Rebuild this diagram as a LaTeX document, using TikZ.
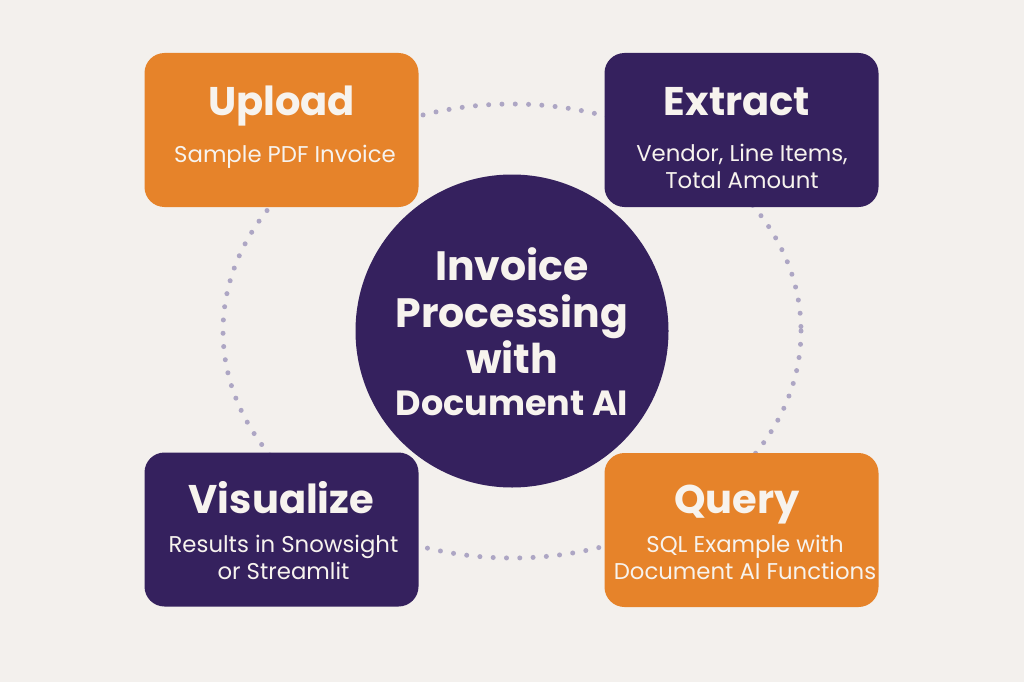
\documentclass[tikz,border=0pt]{standalone}
\usepackage{fontspec}
\setmainfont{Poppins}
\definecolor{bgc}{HTML}{F3F0ED}
\definecolor{orangec}{HTML}{E6832A}
\definecolor{purplec}{HTML}{35215E}
\definecolor{dotc}{HTML}{ADA6C4}
\definecolor{txtc}{HTML}{F7F3EE}
\tikzset{
  stepbox/.style={rounded corners=20pt, minimum width=274pt, minimum height=154pt, inner sep=0pt, draw=none},
  orangebox/.style={stepbox, fill=orangec},
  purplebox/.style={stepbox, fill=purplec},
  titletxt/.style={anchor=base, text=txtc, font=\fontsize{40}{44}\selectfont\bfseries, inner sep=0pt},
  subtxt/.style={anchor=base, text=txtc, font=\fontsize{22.8}{26.5}\selectfont, inner sep=0pt, align=center},
  hubtxt/.style={anchor=base, text=txtc, font=\fontsize{41}{46}\selectfont\bfseries, inner sep=0pt},
  dotline/.style={draw=dotc, line width=5pt, line cap=round, dash pattern=on 0pt off 13.3pt},
}
\begin{document}
\begin{tikzpicture}[x=1pt,y=-1pt]
  \fill[bgc] (0,0) rectangle (1024,682);
  \useasboundingbox (0,0) rectangle (1024,682);
  \coordinate (ringc) at (512,331);
  \draw[dotline] (ringc) ellipse [x radius=289, y radius=227];
  \node[orangebox] (upload) at (281.5,130) {};
  \node[purplebox] (extract) at (741.5,130) {};
  \node[purplebox] (visualize) at (281.5,529.5) {};
  \node[orangebox] (query) at (741.5,530) {};
  \node[circle, fill=purplec, minimum size=313pt, inner sep=0pt] (hub) at (ringc) {};
  \node[hubtxt] (hubl1) at (512,280) {Invoice};
  \node[hubtxt] (hubl2) at (512,327) {Processing};
  \node[hubtxt] (hubl3) at (512,373) {with};
  \node[hubtxt, font=\fontsize{35}{40}\selectfont\bfseries] (hubl4) at (512,415.5) {Document AI};
  \node[titletxt] (uploadt) at (281.5,116) {Upload};
  \node[subtxt] (uploads) at (285,162) {Sample PDF Invoice};
  \node[titletxt] (extractt) at (737,116) {Extract};
  \node[subtxt] (extracts) at (742,188) {Vendor, Line Items,\\Total Amount};
  \node[titletxt] (visualizet) at (281.5,513) {Visualize};
  \node[subtxt] (visualizes) at (283.5,579) {Results in Snowsight\\or Streamlit};
  \node[titletxt] (queryt) at (737,513) {Query};
  \node[subtxt] (querys) at (745,579) {SQL Example with\\Document AI Functions};
\end{tikzpicture}
\end{document}
